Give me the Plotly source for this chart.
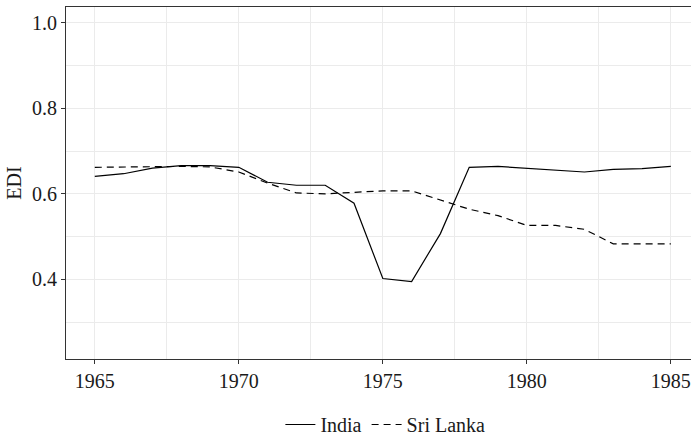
import plotly.graph_objects as go

years = list(range(1965, 1986))
india = [0.641, 0.647, 0.660, 0.666, 0.666, 0.662, 0.627, 0.620, 0.620, 0.578,
         0.402, 0.395, 0.507, 0.662, 0.664, 0.660, 0.656, 0.651, 0.657, 0.659, 0.664]
sri_lanka = [0.662, 0.663, 0.664, 0.664, 0.663, 0.651, 0.625, 0.602, 0.600, 0.603,
             0.607, 0.607, 0.585, 0.564, 0.549, 0.526, 0.526, 0.517, 0.483, 0.483, 0.483]
x_ticks = [1965, 1970, 1975, 1980, 1985]
y_ticks = [0.4, 0.6, 0.8, 1.0]
y_tick_labels = ["0.4", "0.6", "0.8", "1.0"]

FONT = "Liberation Serif"
TXT = "#1a1a1a"

fig = go.Figure()
fig.add_trace(go.Scatter(x=years, y=india, mode="lines", name="India",
                         line=dict(color="black", width=1.2)))
fig.add_trace(go.Scatter(x=years, y=sri_lanka, mode="lines", name="Sri Lanka",
                         line=dict(color="black", width=1.2, dash="7px,5px")))

grid = "#EBEBEB"
fig.update_layout(
    width=691, height=444,
    margin=dict(l=66, r=0, t=7, b=79, pad=0),
    paper_bgcolor="white", plot_bgcolor="white",
    font=dict(family=FONT, size=20, color=TXT),
    showlegend=True,
    legend=dict(orientation="h", x=0.343, xanchor="left", y=-0.187, yanchor="middle",
                font=dict(size=20, family=FONT, color=TXT),
                itemwidth=30, tracegroupgap=0, bgcolor="rgba(0,0,0,0)"),
    xaxis=dict(range=[1964, 1985.7], tickvals=x_ticks, ticktext=[str(v) for v in x_ticks],
               showgrid=True, gridcolor=grid, gridwidth=1.1,
               minor=dict(tickvals=[1967.5, 1972.5, 1977.5, 1982.5], showgrid=True,
                          gridcolor=grid, gridwidth=0.6),
               showline=True, linecolor="#333333", linewidth=1.1, mirror=True,
               ticks="outside", ticklen=4, tickcolor="#333333", tickwidth=1,
               tickfont=dict(size=20, family=FONT, color=TXT),
               zeroline=False),
    yaxis=dict(range=[0.2138, 1.0368], tickvals=y_ticks, ticktext=y_tick_labels,
               showgrid=True, gridcolor=grid, gridwidth=1.1,
               minor=dict(tickvals=[0.3, 0.5, 0.7, 0.9], showgrid=True,
                          gridcolor=grid, gridwidth=0.6),
               showline=True, linecolor="#333333", linewidth=1.1, mirror=False,
               ticks="outside", ticklen=4, tickcolor="#333333", tickwidth=1,
               tickfont=dict(size=20, family=FONT, color=TXT),
               title=dict(text="EDI", font=dict(size=20, family=FONT, color=TXT),
                          standoff=4),
               zeroline=False),
)

fig.write_html("out.html",
               config={"displayModeBar": False},
               post_script="document.body.style.margin='0';document.body.style.overflow='hidden';")
